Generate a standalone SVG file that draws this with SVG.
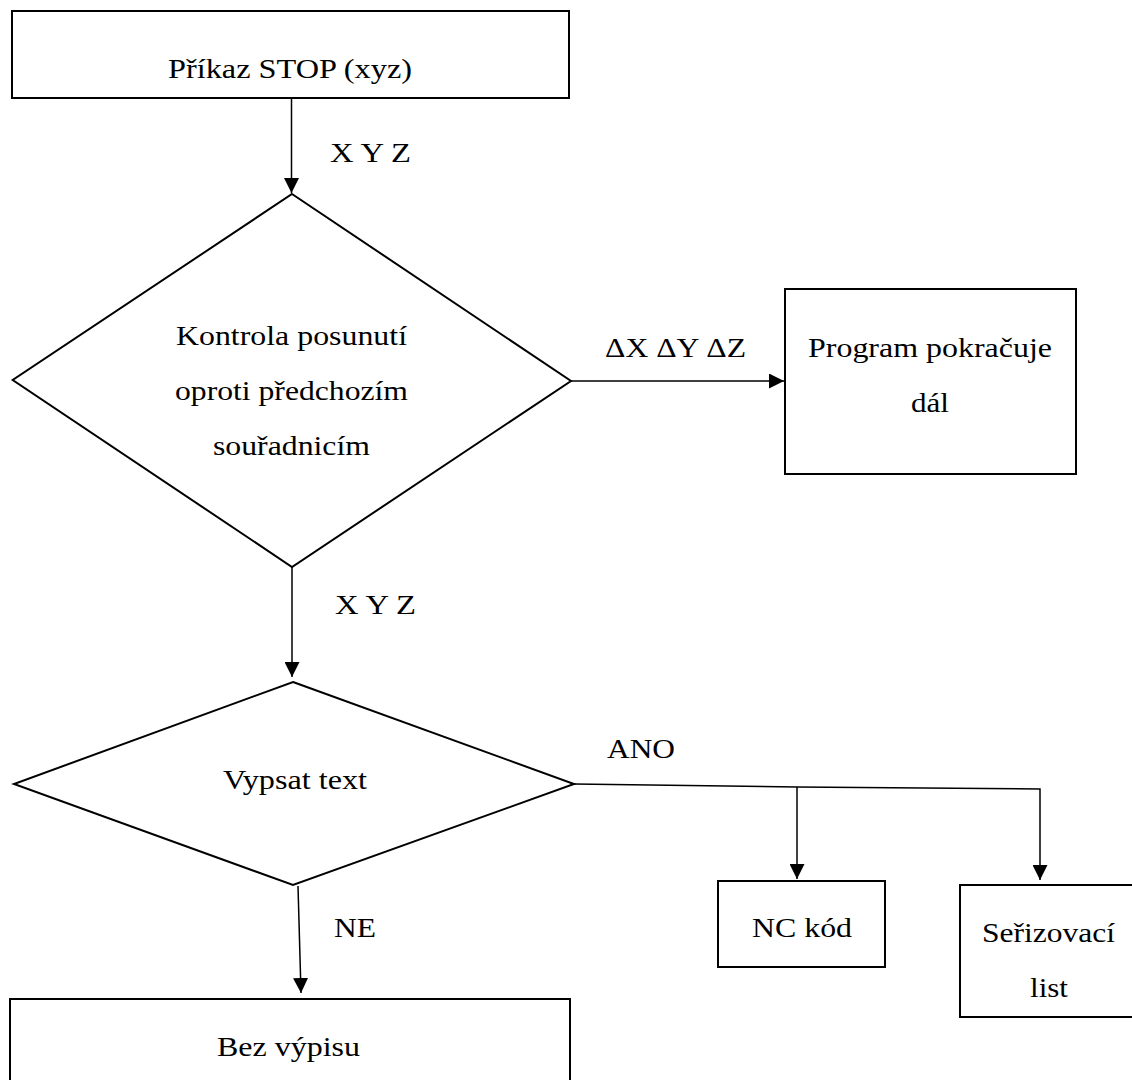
<svg xmlns="http://www.w3.org/2000/svg" width="1132" height="1080" viewBox="0 0 1132 1080">
<style>
.box{fill:#fff;stroke:#000;stroke-width:2}
.con{fill:none;stroke:#000;stroke-width:1.5}
text{font-family:"Liberation Serif","Times New Roman",serif;font-size:27px;fill:#000}
</style>
<defs>
<marker id="arr" viewBox="0 0 10 10" refX="10" refY="5" markerWidth="15" markerHeight="15" markerUnits="userSpaceOnUse" orient="auto">
<path d="M0,0 L10,5 L0,10 z" fill="#000"/>
</marker>
</defs>
<rect width="1132" height="1080" fill="#fff"/>
<g id="connectors">
<line class="con" x1="291.5" y1="98" x2="291.5" y2="193" marker-end="url(#arr)"/>
<line class="con" x1="571" y1="381" x2="784" y2="381" marker-end="url(#arr)"/>
<line class="con" x1="292" y1="567" x2="292" y2="677" marker-end="url(#arr)"/>
<polyline class="con" points="574,784 797,787 1040,789 1040,880" marker-end="url(#arr)"/>
<line class="con" x1="797" y1="787" x2="797" y2="879" marker-end="url(#arr)"/>
<line class="con" x1="298" y1="886" x2="301" y2="993" marker-end="url(#arr)"/>
<text x="330" y="162" textLength="81" lengthAdjust="spacingAndGlyphs">X Y Z</text>
<text x="605" y="357" textLength="141" lengthAdjust="spacingAndGlyphs">ΔX ΔY ΔZ</text>
<text x="335" y="614" textLength="81" lengthAdjust="spacingAndGlyphs">X Y Z</text>
<text x="607" y="758" textLength="68" lengthAdjust="spacingAndGlyphs">ANO</text>
<text x="334" y="937" textLength="42" lengthAdjust="spacingAndGlyphs">NE</text>
</g>
<g id="n-prikaz">
<rect class="box" x="12" y="11" width="557" height="87"/>
<text x="168" y="78" textLength="244" lengthAdjust="spacingAndGlyphs">Příkaz STOP (xyz)</text>
</g>
<g id="n-kontrola">
<polygon class="box" points="292,194 571,381 292,567 12.7,380"/>
<text x="176" y="345" textLength="231" lengthAdjust="spacingAndGlyphs">Kontrola posunutí</text>
<text x="175" y="400" textLength="233" lengthAdjust="spacingAndGlyphs">oproti předchozím</text>
<text x="213" y="455" textLength="157" lengthAdjust="spacingAndGlyphs">souřadnicím</text>
</g>
<g id="n-program">
<rect class="box" x="785" y="289" width="291" height="185"/>
<text x="808" y="357" textLength="244" lengthAdjust="spacingAndGlyphs">Program pokračuje</text>
<text x="911" y="412" textLength="38" lengthAdjust="spacingAndGlyphs">dál</text>
</g>
<g id="n-vypsat">
<polygon class="box" points="293,682 574,784 293,885 14,784"/>
<text x="223" y="789" textLength="144" lengthAdjust="spacingAndGlyphs">Vypsat text</text>
</g>
<g id="n-nc">
<rect class="box" x="718" y="881" width="167" height="86"/>
<text x="752" y="937" textLength="100" lengthAdjust="spacingAndGlyphs">NC kód</text>
</g>
<g id="n-serizovaci">
<rect class="box" x="960" y="885" width="180" height="132"/>
<text x="982" y="942" textLength="133" lengthAdjust="spacingAndGlyphs">Seřizovací</text>
<text x="1030" y="997" textLength="38" lengthAdjust="spacingAndGlyphs">list</text>
</g>
<g id="n-bez">
<rect class="box" x="10" y="999" width="560" height="100"/>
<text x="217" y="1056" textLength="143" lengthAdjust="spacingAndGlyphs">Bez výpisu</text>
</g>
</svg>
